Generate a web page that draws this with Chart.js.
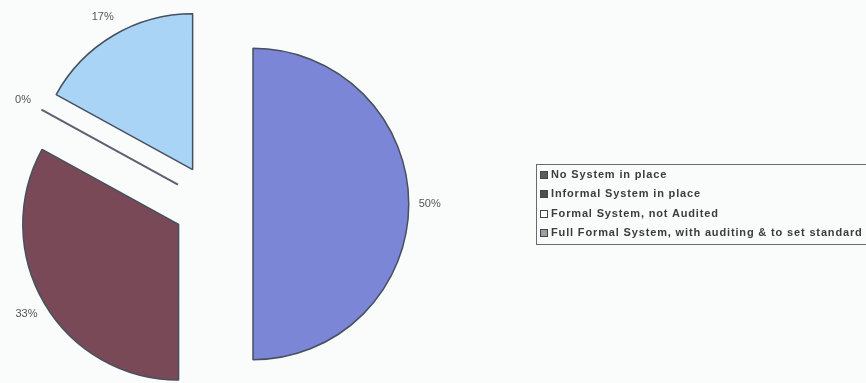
<!DOCTYPE html>
<html>
<head>
    <title>Audit System Pie</title>
    <script src="https://cdn.jsdelivr.net/npm/chart.js@4.4.1/dist/chart.umd.min.js"></script>
    <style>
        body {
            margin: 0;
            background: #fafcfc;
            font-family: "Liberation Sans", Arial, sans-serif;
        }
        .wrap {
            position: relative;
            width: 866px;
            height: 383px;
            overflow: hidden;
        }
        .legend {
            position: absolute;
            left: 536px;
            top: 164px;
            width: 340px;
            border: 1px solid #6a6a6a;
            padding: 0 0 2px 0;
        }
        .legend div {
            height: 19.3px;
            line-height: 19.3px;
            font-size: 11px;
            font-weight: bold;
            letter-spacing: 0.85px;
            color: #3c3c3c;
            white-space: nowrap;
        }
        .legend span {
            display: inline-block;
            width: 6px;
            height: 6px;
            border: 1px solid #444;
            margin: 0 3px 0 3px;
            vertical-align: -1px;
        }
    </style>
</head>
<body>
    <div class="wrap">
        <canvas id="pie"></canvas>
        <div class="legend" id="legend"></div>
    </div>

    <script>
        const labels = [
            'No System in place',
            'Informal System in place',
            'Formal System, not Audited',
            'Full Formal System, with auditing & to set standard'
        ];
        const values = [50, 33, 0, 17];
        const sliceColors = ['#7b87d6', '#794957', '#fdfdf0', '#aad4f6'];
        const legendSwatches = ['#5c5c5c', '#4e4e4e', '#ffffff', '#9aa0aa'];

        const explodeBy = 40;

        // draw each slice pushed out along its middle angle
        const explode = {
            id: 'explode',
            beforeDatasetDraw(chart, args) {
                const ctx = chart.ctx;
                args.meta.data.forEach(arc => {
                    const mid = (arc.startAngle + arc.endAngle) / 2;
                    ctx.save();
                    ctx.translate(Math.cos(mid) * explodeBy, Math.sin(mid) * explodeBy);
                    if (arc.endAngle - arc.startAngle === 0) {
                        // empty slice: only its edge shows
                        ctx.strokeStyle = '#5a6270';
                        ctx.lineWidth = 2;
                        ctx.beginPath();
                        ctx.moveTo(arc.x, arc.y);
                        ctx.lineTo(arc.x + Math.cos(mid) * arc.outerRadius, arc.y + Math.sin(mid) * arc.outerRadius);
                        ctx.stroke();
                    } else {
                        arc.draw(ctx);
                    }
                    ctx.restore();
                });
                return false;
            },
            afterDatasetsDraw(chart) {
                const ctx = chart.ctx;
                const meta = chart.getDatasetMeta(0);
                const total = values.reduce((a, b) => a + b, 0);
                ctx.save();
                ctx.font = '11px "Liberation Sans", Arial, sans-serif';
                ctx.fillStyle = '#555';
                ctx.textAlign = 'center';
                ctx.textBaseline = 'middle';
                meta.data.forEach((arc, i) => {
                    const mid = (arc.startAngle + arc.endAngle) / 2;
                    const d = explodeBy + arc.outerRadius + 21;
                    const pct = Math.round(values[i] / total * 100) + '%';
                    ctx.fillText(pct, arc.x + Math.cos(mid) * d, arc.y + Math.sin(mid) * d);
                });
                ctx.restore();
            }
        };

        new Chart(document.getElementById('pie'), {
            type: 'pie',
            data: {
                labels: labels,
                datasets: [{
                    data: values,
                    backgroundColor: sliceColors,
                    borderColor: '#46505e',
                    borderWidth: 1.5,
                    hoverOffset: 0
                }]
            },
            options: {
                responsive: true,
                maintainAspectRatio: false,
                animation: false,
                events: [],
                layout: {
                    padding: { left: 56.5, right: 496.5, top: 47.5, bottom: 22.5 }
                },
                plugins: {
                    legend: { display: false },
                    tooltip: { enabled: false }
                }
            },
            plugins: [explode]
        });

        // legend as plain html
        const legendEl = document.getElementById('legend');
        labels.forEach((text, i) => {
            const row = document.createElement('div');
            const box = document.createElement('span');
            box.style.background = legendSwatches[i];
            row.appendChild(box);
            row.appendChild(document.createTextNode(text));
            legendEl.appendChild(row);
        });
    </script>
</body>
</html>
